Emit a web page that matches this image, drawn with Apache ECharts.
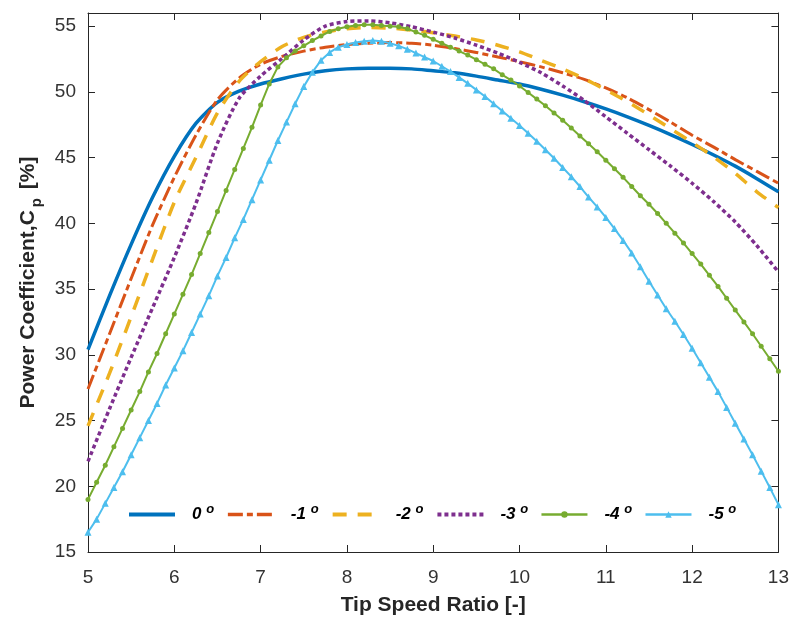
<!DOCTYPE html>
<html><head><meta charset="utf-8">
<script src="https://cdn.jsdelivr.net/npm/echarts@6/dist/echarts.min.js"></script>
<style>html,body{margin:0;padding:0;background:#fff}#c{width:792px;height:621px}</style>
</head><body><div id="c"></div>
<script>
// Tip speed ratio sample points
const tsrFine = [5.0,5.1,5.2,5.3,5.4,5.5,5.6,5.7,5.8,5.9,6.0,6.1,6.2,6.3,6.4,6.5,6.6,6.7,6.8,6.9,
  7.0,7.1,7.2,7.3,7.4,7.5,7.6,7.7,7.8,7.9,8.0,8.1,8.2,8.3,8.4,8.5,8.6,8.7,8.8,8.9,
  9.0,9.1,9.2,9.3,9.4,9.5,9.6,9.7,9.8,9.9,10.0,10.1,10.2,10.3,10.4,10.5,10.6,10.7,10.8,10.9,
  11.0,11.1,11.2,11.3,11.4,11.5,11.6,11.7,11.8,11.9,12.0,12.1,12.2,12.3,12.4,12.5,12.6,12.7,12.8,12.9,13.0];
const tsrCoarse = [5.0,5.25,5.5,5.75,6.0,6.25,6.5,6.75,7.0,7.25,7.5,7.75,8.0,8.25,8.5,8.75,
  9.0,9.25,9.5,9.75,10.0,10.25,10.5,10.75,11.0,11.25,11.5,11.75,12.0,12.25,12.5,12.75,13.0];

// Power coefficient [%] per pitch angle
const cpPitch0 = [30.4,34.5,38.4,42.0,45.1,47.6,49.2,50.05,50.6,51.0,51.35,51.6,51.75,51.8,51.8,51.75,
  51.6,51.45,51.2,50.9,50.6,50.2,49.75,49.25,48.7,48.1,47.45,46.75,46.0,45.2,44.35,43.4,42.4];
const cpPitchM1 = [27.4,31.6,35.8,39.9,43.5,46.7,49.4,51.05,52.1,52.7,53.1,53.4,53.6,53.7,53.75,53.7,
  53.55,53.3,53.0,52.65,52.3,51.9,51.45,50.95,50.3,49.55,48.65,47.7,46.7,45.8,44.85,43.95,43.05];
const cpPitchM2 = [24.6,28.6,32.9,37.3,41.6,45.0,48.4,50.8,52.3,53.45,54.15,54.55,54.8,54.9,54.85,54.7,
  54.5,54.25,53.95,53.55,53.05,52.4,51.75,51.0,50.15,49.25,48.25,47.2,46.15,45.05,43.8,42.4,41.2];
const cpPitchM3 = [21.9,25.9,29.8,33.6,37.4,41.5,46.1,49.5,51.2,52.55,53.95,55.0,55.35,55.4,55.25,54.95,
  54.55,54.1,53.55,52.95,52.25,51.45,50.45,49.35,48.1,46.85,45.6,44.35,43.05,41.65,40.1,38.3,36.3];
const cpPitchM4 = [19.0,20.3,21.6,23.0,24.4,25.8,27.2,28.7,30.1,31.6,33.1,34.6,36.1,37.7,39.3,40.9,42.5,44.1,45.7,47.3,
  49.0,50.6,51.9,52.6,53.1,53.5,53.9,54.25,54.6,54.8,54.95,55.05,55.1,55.1,55.05,55.0,54.95,54.8,54.55,54.3,
  54.0,53.7,53.4,53.1,52.8,52.45,52.1,51.75,51.3,50.9,50.45,49.95,49.45,48.95,48.4,47.85,47.25,46.65,46.05,45.45,
  44.8,44.15,43.5,42.8,42.1,41.45,40.75,40.0,39.25,38.5,37.7,36.9,36.05,35.2,34.3,33.4,32.5,31.6,30.65,29.7,28.75];
const cpPitchM5 = [16.5,17.5,18.7,19.9,21.1,22.4,23.7,25.0,26.3,27.7,29.0,30.3,31.7,33.1,34.5,36.0,37.4,38.9,40.3,41.8,
  43.3,44.8,46.3,47.7,49.1,50.4,51.5,52.4,53.0,53.4,53.6,53.75,53.85,53.9,53.85,53.7,53.5,53.25,52.95,52.65,
  52.35,51.95,51.55,51.1,50.65,50.15,49.65,49.1,48.55,48.0,47.45,46.85,46.25,45.6,44.95,44.25,43.55,42.8,42.0,41.25,
  40.45,39.6,38.7,37.75,36.7,35.6,34.55,33.5,32.55,31.55,30.5,29.4,28.3,27.2,26.0,24.8,23.6,22.4,21.15,19.9,18.6];

const seriesNames = ['0°','-1°','-2°','-3°','-4°','-5°'];
const xTicks = [5,6,7,8,9,10,11,12,13];
const yTicks = [15,20,25,30,35,40,45,50,55];

const pair = (xs, ys) => xs.map((x, i) => [x, ys[i]]);
const font = "'Liberation Sans', Arial, Helvetica, sans-serif";
const axisCol = '#262626';

const colors = ['#0072BD', '#D95319', '#EDB120', '#7E2F8E', '#77AC30', '#4DBEEE'];
const widths = [3.5, 3, 3.5, 3.5, 2, 2];
const dashes = ['solid', [15, 4, 6, 4], [14, 11], [4, 3], 'solid', 'solid'];

const chart = echarts.init(document.getElementById('c'), null, {renderer: 'canvas'});

const baseLine = (i, data, extra) => Object.assign({
  name: seriesNames[i], type: 'line', data, symbol: 'none', smooth: 0.25,
  lineStyle: {color: colors[i], width: widths[i], type: dashes[i], cap: 'butt'},
  itemStyle: {color: colors[i]}, emphasis: {disabled: true}, animation: false,
  xAxisIndex: 0, yAxisIndex: 0
}, extra || {});

chart.setOption({
  backgroundColor: '#fff',
  animation: false,
  grid: {left: 88, right: 13, top: 13, bottom: 68, containLabel: false},
  xAxis: [{
    type: 'value', min: 5, max: 13, interval: 1,
    name: 'Tip Speed Ratio [-]', nameLocation: 'middle', nameGap: 43,
    nameTextStyle: {fontFamily: font, fontWeight: 'bold', fontSize: 21, color: axisCol},
    axisLine: {show: true, onZero: false, lineStyle: {color: axisCol, width: 1}},
    axisTick: {show: true, inside: true, length: 7, lineStyle: {color: axisCol}},
    axisLabel: {fontFamily: font, fontSize: 19, color: '#333', margin: 16,
      formatter: v => xTicks.includes(v) ? String(v) : ''},
    splitLine: {show: false}
  }, {
    type: 'value', min: 5, max: 13, interval: 1, position: 'top',
    axisLine: {show: true, onZero: false, lineStyle: {color: axisCol, width: 1}},
    axisTick: {show: true, inside: true, length: 7, lineStyle: {color: axisCol}},
    axisLabel: {show: false}, splitLine: {show: false}
  }],
  yAxis: [{
    type: 'value', min: 15, max: 56, interval: 5,
    name: '{a|Power Coefficient,C}{sub|p}{a| [%]}', nameLocation: 'middle', nameGap: 42,
    nameTextStyle: {fontFamily: font, fontWeight: 'bold', fontSize: 21, color: axisCol,
      rich: {a: {fontFamily: font, fontWeight: 'bold', fontSize: 21, color: axisCol},
             sub: {fontFamily: font, fontWeight: 'bold', fontSize: 15, color: axisCol, padding: [16, 3, 0, 3]}}},
    axisLine: {show: true, onZero: false, lineStyle: {color: axisCol, width: 1}},
    axisTick: {show: true, inside: true, length: 7, lineStyle: {color: axisCol}},
    axisLabel: {fontFamily: font, fontSize: 19, color: '#333', margin: 12, showMaxLabel: false,
      formatter: v => yTicks.includes(v) ? String(v) : ''},
    splitLine: {show: false}
  }, {
    type: 'value', min: 15, max: 56, interval: 5, position: 'right',
    axisLine: {show: true, onZero: false, lineStyle: {color: axisCol, width: 1}},
    axisTick: {show: true, inside: true, length: 7, lineStyle: {color: axisCol}},
    axisLabel: {show: false}, splitLine: {show: false}
  }],
  legend: {
    left: 127, top: 503, orient: 'horizontal', padding: 0,
    itemWidth: 46, itemHeight: 8, itemGap: 12,
    data: seriesNames.map((n, i) => ({
      name: n,
      lineStyle: {width: widths[i] + 0.5, color: colors[i], type: dashes[i], cap: 'butt'},
      itemStyle: i < 4 ? {opacity: 0} : {color: colors[i]}
    })),
    textStyle: {fontFamily: font, fontSize: 17, fontWeight: 'bold', fontStyle: 'italic', color: '#000',
      padding: [0, 0, 0, 12],
      rich: {n: {fontFamily: font, fontSize: 17, fontWeight: 'bold', fontStyle: 'italic', color: '#000'},
             s: {fontFamily: font, fontSize: 13, fontWeight: 'bold', fontStyle: 'italic', color: '#000', padding: [0, 0, 10, 0]}}},
    formatter: name => '{n|' + name.replace('°', '') + '} {s|o}'
  },
  series: [
    baseLine(0, pair(tsrCoarse, cpPitch0)),
    baseLine(1, pair(tsrCoarse, cpPitchM1)),
    baseLine(2, pair(tsrCoarse, cpPitchM2)),
    baseLine(3, pair(tsrCoarse, cpPitchM3)),
    baseLine(4, pair(tsrFine, cpPitchM4), {symbol: 'circle', symbolSize: 5, showSymbol: true, smooth: false}),
    baseLine(5, pair(tsrFine, cpPitchM5), {symbol: 'triangle', symbolSize: 7, showSymbol: true, smooth: false})
  ]
});
</script></body></html>
